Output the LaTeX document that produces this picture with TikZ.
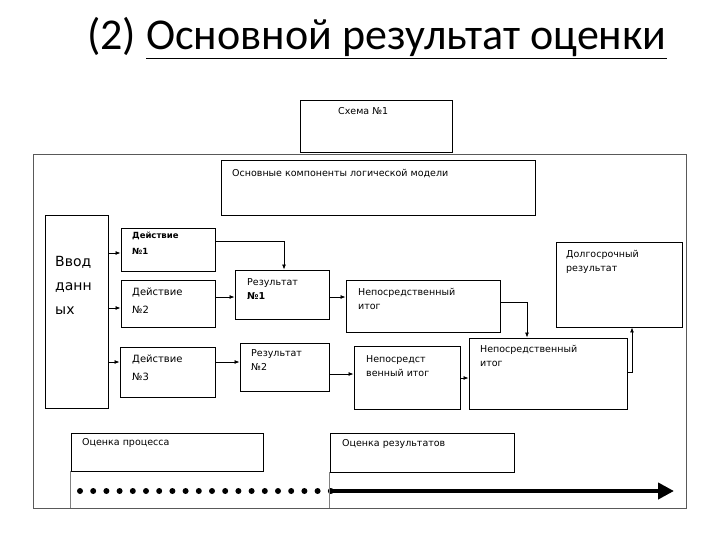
\documentclass[tikz,border=0pt]{standalone}
\usepackage{fontspec}
\setmainfont{Carlito}
\newfontfamily\boxfont{DejaVu Sans}
\usetikzlibrary{arrows.meta}
\begin{document}
\begin{tikzpicture}[x=1pt,y=-1pt,
  bx/.style={draw,line width=0.9pt},
  lbl/.style={font=\boxfont\fontsize{9.5}{14}\selectfont,align=left,anchor=north west,inner sep=0pt},
  ar/.style={draw,line width=0.8pt,-{Latex[length=5pt,width=4pt]}}]
\useasboundingbox (0,0) rectangle (720,540);
\node[font=\fontsize{44}{46}\selectfont,anchor=base west,inner sep=0pt] (title) at (87,50) {(2) \underline{Основной результат оценки}};
\node[bx,minimum width=152,minimum height=52,inner sep=0pt] (sch) at (376,126) {};
\node[lbl] (scht) at (338,107) {Схема №1};
\draw[gray!70!black,line width=1pt] (33,155) rectangle (686,508);
\node[bx,minimum width=314,minimum height=55,inner sep=0pt] (comp) at (378,187.5) {};
\node[lbl] (compt) at (232,169) {Основные компоненты логической модели};
\node[bx,minimum width=63,minimum height=193,inner sep=0pt] (inp) at (76.5,311.5) {};
\node[lbl,font=\boxfont\fontsize{14}{24}\selectfont] (inpt) at (55,256) {Ввод\\данн\\ых};
\node[bx,minimum width=94,minimum height=43,inner sep=0pt] (d1) at (168,249.5) {};
\node[lbl,font=\boxfont\bfseries\fontsize{8.5}{16}\selectfont] (d1t) at (132,232) {Действие\\№1};
\node[bx,minimum width=94,minimum height=47,inner sep=0pt] (d2) at (168,303.5) {};
\node[lbl,font=\boxfont\fontsize{10}{18}\selectfont] (d2t) at (132,288) {Действие\\№2};
\node[bx,minimum width=95,minimum height=50,inner sep=0pt] (d3) at (167.5,372) {};
\node[lbl,font=\boxfont\fontsize{10}{18}\selectfont] (d3t) at (132,355) {Действие\\№3};
\node[bx,minimum width=94,minimum height=49,inner sep=0pt] (r1) at (282,294.5) {};
\node[lbl] (r1t) at (247,278) {Результат\\\textbf{№1}};
\node[bx,minimum width=89,minimum height=48,inner sep=0pt] (r2) at (284.5,367) {};
\node[lbl] (r2t) at (251,349) {Результат\\№2};
\node[bx,minimum width=154,minimum height=52,inner sep=0pt] (n1) at (423,306) {};
\node[lbl] (n1t) at (358,288) {Непосредственный\\итог};
\node[bx,minimum width=106,minimum height=63,inner sep=0pt] (n2) at (407,377.5) {};
\node[lbl] (n2t) at (366,355) {Непосредст\\венный итог};
\node[bx,minimum width=158,minimum height=71,inner sep=0pt] (n3) at (548,373.5) {};
\node[lbl] (n3t) at (480,345) {Непосредственный\\итог};
\node[bx,minimum width=126,minimum height=85,inner sep=0pt] (lt) at (619,284.5) {};
\node[lbl] (ltt) at (566,250) {Долгосрочный\\результат};
\node[bx,minimum width=192,minimum height=38,inner sep=0pt] (op) at (167,452) {};
\node[lbl] (opt) at (82,438) {Оценка процесса};
\node[bx,minimum width=184,minimum height=39,inner sep=0pt] (or) at (422,452.5) {};
\node[lbl] (ort) at (342,439) {Оценка результатов};
% arrows
\draw[ar] (inp.east |- 0,253) -- (d1.west |- 0,253);
\draw[ar] (inp.east |- 0,308) -- (d2.west |- 0,308);
\draw[ar] (inp.east |- 0,362) -- (d3.west |- 0,362);
\draw[ar] (d1.east |- 0,241) -| (r1.north -| 284,0);
\draw[ar] (d2.east |- 0,297) -- (r1.west |- 0,297);
\draw[ar] (d3.east |- 0,362) -- (r2.west |- 0,362);
\draw[ar] (r1.east |- 0,297) -- (n1.west |- 0,297);
\draw[ar] (r2.east |- 0,374) -- (n2.west |- 0,374);
\draw[ar] (n1.east |- 0,302) -| (n3.north -| 527,0);
\draw[ar] (n2.east |- 0,378) -- (n3.west |- 0,378);
\draw[ar] (n3.east |- 0,372) -| (lt.south -| 632,0);
% timeline
\coordinate (tl0) at (80,491);
\coordinate (tlm) at (331,491);
\coordinate (tl1) at (674,491);
\draw[line width=6pt,line cap=round,dash pattern=on 0pt off 13.2pt] (tl0) -- (tlm);
\draw[line width=4pt,-{Triangle[length=16pt,width=16pt]}] (tlm) -- (tl1);
\draw[line width=0.8pt,gray] (op.south west) -- (op.south west |- 0,508);
\draw[line width=0.8pt,gray] (or.south west) -- (or.south west |- 0,508);
\end{tikzpicture}
\end{document}
